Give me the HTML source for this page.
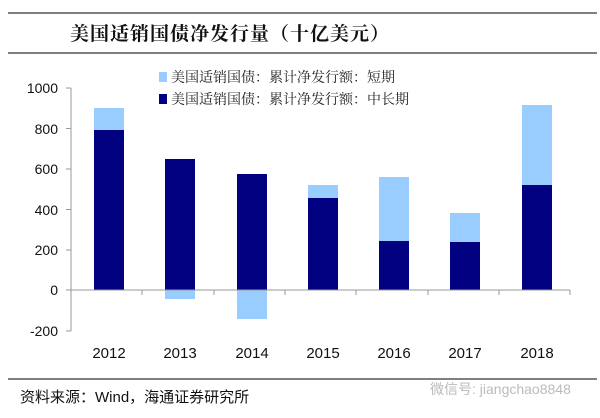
<!DOCTYPE html>
<html><head><meta charset="utf-8"><style>
body{margin:0;background:#fff;}
svg text{font-family:"Liberation Sans","Noto Sans CJK SC",sans-serif;}
</style></head><body>
<svg width="600" height="413" viewBox="0 0 600 413" xmlns="http://www.w3.org/2000/svg">
<rect width="600" height="413" fill="#fff"/>
<line x1="8" y1="13" x2="597" y2="13" stroke="#555" stroke-width="1.5"/>
<text x="70" y="40" font-size="19" font-weight="bold" fill="#111" style="font-family:'Noto Serif CJK SC',serif;letter-spacing:1px">美国适销国债净发行量（十亿美元）</text>
<line x1="8" y1="53" x2="597" y2="53" stroke="#555" stroke-width="1.5"/>
<rect x="159" y="72" width="8" height="10" fill="#99ccff"/>
<text x="171" y="82" font-size="14" fill="#222" style="font-family:'Noto Serif CJK SC',serif">美国适销国债：累计净发行额：短期</text>
<rect x="159" y="94" width="8" height="10" fill="#000080"/>
<text x="171" y="104" font-size="14" fill="#222" style="font-family:'Noto Serif CJK SC',serif">美国适销国债：累计净发行额：中长期</text>
<g font-size="14" fill="#111" text-anchor="end">
<text x="58" y="93">1000</text><text x="58" y="134">800</text><text x="58" y="174">600</text>
<text x="58" y="215">400</text><text x="58" y="255">200</text><text x="58" y="295">0</text><text x="58" y="336">-200</text>
</g>
<g stroke="#999" stroke-width="1">
<line x1="71" y1="88" x2="71" y2="331"/>
<line x1="66" y1="88" x2="71" y2="88"/><line x1="66" y1="128.5" x2="71" y2="128.5"/><line x1="66" y1="169" x2="71" y2="169"/><line x1="66" y1="209.5" x2="71" y2="209.5"/><line x1="66" y1="250" x2="71" y2="250"/><line x1="66" y1="331" x2="71" y2="331"/>
</g>
<g>
<rect x="94" y="108" width="30" height="22" fill="#99ccff"/><rect x="94" y="130" width="30" height="160" fill="#000080"/>
<rect x="165" y="159" width="30" height="131" fill="#000080"/><rect x="165" y="290" width="30" height="9" fill="#99ccff"/>
<rect x="237" y="174" width="30" height="116" fill="#000080"/><rect x="237" y="290" width="30" height="29" fill="#99ccff"/>
<rect x="308" y="185" width="30" height="13" fill="#99ccff"/><rect x="308" y="198" width="30" height="92" fill="#000080"/>
<rect x="379" y="177" width="30" height="64" fill="#99ccff"/><rect x="379" y="241" width="30" height="49" fill="#000080"/>
<rect x="450" y="213" width="30" height="29" fill="#99ccff"/><rect x="450" y="242" width="30" height="48" fill="#000080"/>
<rect x="522" y="105" width="30" height="80" fill="#99ccff"/><rect x="522" y="185" width="30" height="105" fill="#000080"/>
</g>
<g stroke="#999" stroke-width="1">
<line x1="66" y1="290" x2="570" y2="290"/>
<line x1="142" y1="290" x2="142" y2="295"/><line x1="214" y1="290" x2="214" y2="295"/><line x1="285" y1="290" x2="285" y2="295"/><line x1="356" y1="290" x2="356" y2="295"/><line x1="428" y1="290" x2="428" y2="295"/><line x1="499" y1="290" x2="499" y2="295"/><line x1="570" y1="290" x2="570" y2="295"/>
</g>
<g font-size="15" fill="#111" text-anchor="middle">
<text x="109" y="358">2012</text><text x="180" y="358">2013</text><text x="252" y="358">2014</text><text x="323" y="358">2015</text><text x="394" y="358">2016</text><text x="465" y="358">2017</text><text x="537" y="358">2018</text>
</g>
<line x1="8" y1="379" x2="597" y2="379" stroke="#555" stroke-width="1.5"/>
<text x="20" y="402" font-size="15" fill="#111">资料来源：Wind，海通证券研究所</text>
<text x="430" y="394" font-size="14" fill="#bbb">微信号: jiangchao8848</text>
</svg>
</body></html>
